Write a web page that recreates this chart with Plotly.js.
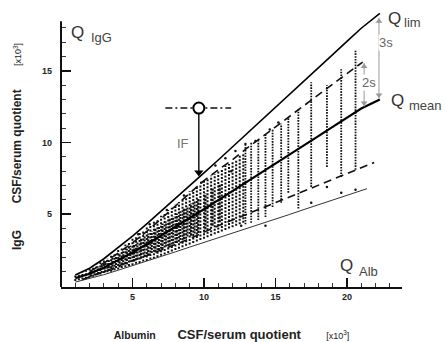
<!DOCTYPE html>
<html><head><meta charset="utf-8">
<script src="https://cdn.plot.ly/plotly-3.0.1.min.js"></script>
<style>body{margin:0;background:#fff}</style>
</head><body><div id="chart" style="width:445px;height:342px"></div>
<script>
// All values in units of x10^3
const limX  = [1.0, 2, 3, 4, 5, 6, 7, 8, 9, 10, 11, 12, 13, 14, 15, 16, 17, 18, 19, 20, 21, 22.3];
const limY  = [0.76, 1.24, 1.90, 2.66, 3.48, 4.33, 5.20, 6.08, 6.98, 7.88, 8.78, 9.69, 10.6, 11.52, 12.43, 13.35, 14.27, 15.2, 16.12, 17.04, 17.96, 19.0];
const meanX = [1.0, 2, 3, 4, 5, 6, 7, 8, 9, 10, 11, 12, 13, 14, 15, 16, 17, 18, 19, 20, 21, 22.3];
const meanY = [0.55, 0.85, 1.28, 1.78, 2.33, 2.91, 3.51, 4.12, 4.73, 5.35, 5.98, 6.61, 7.25, 7.88, 8.52, 9.16, 9.80, 10.44, 11.09, 11.73, 12.37, 13.0];
const lowX  = [1.0, 2, 3, 4, 5, 6, 7, 8, 9, 10, 11, 12, 13, 14, 15, 16, 17, 18, 19, 20, 21, 21.4];
const lowY  = [0.27, 0.51, 0.79, 1.10, 1.41, 1.73, 2.06, 2.38, 2.71, 3.03, 3.36, 3.69, 4.02, 4.34, 4.67, 4.99, 5.33, 5.66, 5.99, 6.32, 6.65, 6.78];
const upDashX = [2, 3, 4, 5, 6, 7, 8, 9, 10, 11, 12, 13, 14, 15, 16, 17, 18, 19, 20, 21.1];
const upDashY = [1.0, 1.6, 2.3, 3.0, 3.8, 4.7, 5.6, 6.5, 7.35, 8.1, 8.8, 9.6, 10.35, 11.1, 11.85, 12.6, 13.3, 14.1, 14.8, 15.6];
const loDashX = [1.5, 3, 5, 7, 9, 11, 13, 15, 17, 19, 21.9];
const loDashY = [0.45, 1.0, 1.75, 2.5, 3.3, 4.2, 5.0, 5.8, 6.6, 7.4, 8.6];

// patient data: columns of points (ranges) at the higher albumin quotients
const colX  = [12.9, 13.3, 13.8, 14.3, 14.8, 15.4, 15.9, 16.6, 17.5, 18.6, 19.6, 20.6];
const colLo = [4.3, 4.4, 4.6, 4.8, 5.5, 5.8, 6.5, 5.4, 6.9, 8.3, 7.6, 8.1];
const colHi = [9.8, 10.0, 10.2, 10.6, 10.9, 11.3, 11.7, 12.3, 14.2, 14.0, 15.1, 16.4];
// dense cloud at low quotients (outer band, between-band and inner core)
const cloudX  = [1.0, 1.5, 2.0, 2.5, 3.0, 3.5, 4.0, 4.5, 5.0, 5.5, 6.0, 6.5, 7.0, 7.5, 8.0, 8.5, 9.0, 9.5, 10.0, 10.5, 11.0, 11.5, 12.0, 12.5];
const cloudLo = [0.35, 0.45, 0.6, 0.75, 0.9, 1.0, 1.15, 1.3, 1.45, 1.6, 1.75, 1.9, 2.1, 2.3, 2.5, 2.7, 2.9, 3.1, 3.3, 3.5, 3.7, 3.9, 4.1, 4.3];
const cloudHi = [0.75, 1.0, 1.2, 1.5, 1.8, 2.1, 2.5, 2.9, 3.3, 3.7, 4.1, 4.5, 4.9, 5.3, 5.7, 6.1, 6.6, 7.0, 7.4, 7.7, 8.0, 8.4, 8.7, 9.1];
const coreX  = [1.25, 1.75, 2.25, 2.75, 3.25, 3.75, 4.25, 4.75, 5.25, 5.75, 6.25, 6.75, 7.25, 7.75, 8.25, 8.75, 9.25, 9.75, 10.25, 10.75, 11.25, 11.75, 12.25, 12.75];
const coreLo = [0.4, 0.5, 0.65, 0.8, 0.95, 1.1, 1.25, 1.4, 1.55, 1.7, 1.85, 2.0, 2.2, 2.4, 2.6, 2.8, 3.0, 3.2, 3.4, 3.6, 3.8, 4.0, 4.2, 4.4];
const coreHi = [0.9, 1.1, 1.35, 1.65, 1.95, 2.3, 2.65, 3.05, 3.45, 3.85, 4.25, 4.65, 5.05, 5.45, 5.85, 6.3, 6.7, 7.1, 7.5, 7.8, 8.1, 8.5, 8.8, 9.2];
const innerX  = [2.1, 2.6, 3.1, 3.6, 4.1, 4.6, 5.1, 5.6, 6.1, 6.6, 7.1, 7.6, 8.1, 8.6, 9.1, 9.6, 10.1, 10.6, 11.1];
const innerLo = [0.65, 0.8, 0.95, 1.1, 1.3, 1.5, 1.7, 1.9, 2.1, 2.35, 2.55, 2.8, 3.0, 3.25, 3.5, 3.7, 3.95, 4.2, 4.45];
const innerHi = [1.1, 1.35, 1.65, 1.95, 2.3, 2.6, 2.95, 3.3, 3.65, 4.0, 4.35, 4.7, 5.05, 5.4, 5.75, 6.1, 6.45, 6.8, 7.1];
const inner2X  = [2.35, 2.85, 3.35, 3.85, 4.35, 4.85, 5.35, 5.85, 6.35, 6.85, 7.35, 7.85, 8.35, 8.85, 9.35];
const inner2Lo = [0.75, 0.9, 1.05, 1.25, 1.45, 1.65, 1.85, 2.05, 2.3, 2.5, 2.75, 2.95, 3.2, 3.45, 3.65];
const inner2Hi = [1.2, 1.5, 1.8, 2.1, 2.45, 2.8, 3.1, 3.45, 3.8, 4.15, 4.5, 4.85, 5.2, 5.55, 5.9];
// single scattered points
const ptX = [10.8, 11.5, 12.2, 12.9, 11.9, 9.8, 8.6, 7.4, 13.6, 14.6, 15.2, 6.2, 5.4, 12.6, 14.3, 17.5, 19.6, 20.6, 18.6];
const ptY = [8.4, 8.9, 9.4, 9.9, 8.0, 7.2, 6.3, 5.3, 10.1, 10.9, 11.4, 4.3, 3.6, 4.2, 4.2, 5.8, 6.5, 6.7, 6.9];
// IF example: dashed level line, circle, arrow down to Q_lim
const ifX = [9.64], ifY = [12.4], ifLimY = [7.6];
const ifLineX = [7.3, 11.9];
// 3s and 2s distance markers (x, top, bottom)
const sdX = [22.24, 21.2], sdTop = [18.7, 15.55], sdBot = [13.05, 12.5];

const xTicks = [5, 10, 15, 20];
const yTicks = [5, 10, 15];
const xMinor = [1,2,3,4,6,7,8,9,11,12,13,14,16,17,18,19,21,22,23];
const yMinor = [1,2,3,4,6,7,8,9,11,12,13,14,16,17,18];

function segs(xs, lo, hi) {
  const X = [], Y = [];
  xs.forEach((x, i) => { X.push(x, x, null); Y.push(lo[i], hi[i], null); });
  return {x: X, y: Y};
}
const FONT = 'Liberation Sans, Arial, sans-serif';
const cl = segs(cloudX, cloudLo, cloudHi), co = segs(coreX, coreLo, coreHi),
      inn = segs(innerX, innerLo, innerHi), in2 = segs(inner2X, inner2Lo, inner2Hi),
      cc = segs(colX, colLo, colHi);
const sd = segs(sdX, sdBot, sdTop);
const dotLine = (w, d) => ({color: '#111', width: w, dash: d});

const data = [
  {x: cl.x, y: cl.y, mode: 'lines', line: dotLine(2.0, '2px,1.5px'), hoverinfo: 'skip'},
  {x: co.x, y: co.y, mode: 'lines', line: dotLine(2.0, '2px,1.5px'), hoverinfo: 'skip'},
  {x: inn.x, y: inn.y, mode: 'lines', line: dotLine(2.2, '2.5px,1px'), hoverinfo: 'skip'},
  {x: in2.x, y: in2.y, mode: 'lines', line: dotLine(2.0, '2px,1px'), hoverinfo: 'skip'},
  {x: cc.x, y: cc.y, mode: 'lines', line: dotLine(1.8, '1.6px,1.2px'), hoverinfo: 'skip'},
  {x: ptX, y: ptY, mode: 'markers', marker: {color: '#111', size: 2.5}},
  {x: lowX, y: lowY, mode: 'lines', line: {color: '#333', width: 1}},
  {x: loDashX, y: loDashY, mode: 'lines', line: {color: '#111', width: 1.6, dash: '8px,5px'}},
  {x: upDashX, y: upDashY, mode: 'lines', line: {color: '#111', width: 1.6, dash: '8px,5px'}},
  {x: meanX, y: meanY, mode: 'lines', line: {color: '#000', width: 2.2}},
  {x: limX, y: limY, mode: 'lines', line: {color: '#000', width: 1.6}},
  // 3s / 2s double arrows
  {x: sd.x, y: sd.y, mode: 'lines', line: {color: '#999', width: 1}},
  {x: sdX, y: sdTop.map(v => v - 0.25), mode: 'markers', marker: {symbol: 'triangle-up', size: 6, color: '#999'}},
  {x: sdX, y: sdBot.map(v => v + 0.25), mode: 'markers', marker: {symbol: 'triangle-down', size: 6, color: '#999'}},
  // IF
  {x: ifLineX, y: [ifY[0], ifY[0]], mode: 'lines', line: {color: '#111', width: 1.4, dash: '7px,3px,2px,3px'}},
  {x: [ifX[0], ifX[0]], y: [ifY[0], ifLimY[0] + 0.3], mode: 'lines', line: {color: '#000', width: 1.4}},
  {x: ifX, y: ifLimY.map(v => v + 0.3), mode: 'markers', marker: {symbol: 'triangle-down', size: 8, color: '#000'}},
  {x: ifX, y: ifY, mode: 'markers', marker: {symbol: 'circle', size: 11, color: '#fff', line: {color: '#000', width: 2}}}
];

function px2p(px, py) { return {x: (px - 61) / 341, y: (287 - py) / 281}; }
function lab(text, px, py, size, color) {
  const p = px2p(px, py);
  return {xref: 'paper', yref: 'paper', x: p.x, y: p.y, xanchor: 'center', yanchor: 'middle',
          text: text, showarrow: false, font: {family: FONT, size: size, color: color}};
}
const annotations = [
  Object.assign(lab('3s', 386, 42, 13, '#666'), {bgcolor: '#fff', borderpad: 0}),
  Object.assign(lab('2s', 369, 82, 13, '#666'), {bgcolor: '#fff', borderpad: 0}),
  lab('IF', 183, 143, 13, '#777'),
  lab('Q', 77, 32, 17, '#333'), lab('IgG', 101, 38, 13, '#444'),
  lab('Q', 394, 19, 17, '#333'), lab('lim', 412, 22, 13, '#444'),
  lab('Q', 397, 100, 17, '#333'), lab('mean', 425, 105, 13, '#444'),
  lab('Q', 346.5, 265, 17, '#333'), lab('Alb', 368.5, 271, 13, '#444')
];

const sp = n => '&nbsp;'.repeat(n);
const unit = "<span style='font-size:9px'>[x10<sup>3</sup>]</span>";
const layout = {
  width: 445, height: 342,
  margin: {l: 61, r: 43, t: 6, b: 55},
  paper_bgcolor: '#fff', plot_bgcolor: '#fff',
  showlegend: false,
  font: {family: FONT, color: '#222'},
  xaxis: {
    range: [0, 23.85], showgrid: false, zeroline: false,
    showline: true, linecolor: '#111', linewidth: 2,
    tickmode: 'array', tickvals: xTicks, ticktext: xTicks.map(String),
    ticks: 'inside', ticklen: 9, tickwidth: 1.8, tickcolor: '#111',
    tickfont: {family: FONT, size: 9, color: '#222', weight: 'bold'},
    minor: {tickmode: 'array', tickvals: xMinor, ticks: 'inside', ticklen: 4, tickwidth: 1, tickcolor: '#333'},
    title: {text: "<b><span style='font-size:10.5px'>Albumin</span>" + sp(6) + 'CSF/serum quotient</b>' + sp(7) + unit,
            font: {family: FONT, size: 13, color: '#222'}, standoff: 36}
  },
  yaxis: {
    range: [-0.07, 19.51], showgrid: false, zeroline: false, showline: false,
    tickmode: 'array', tickvals: yTicks, ticktext: yTicks.map(String),
    ticks: 'inside', ticklen: 10, tickwidth: 1.8, tickcolor: '#111',
    ticklabelstandoff: 8,
    tickfont: {family: FONT, size: 9, color: '#222', weight: 'bold'},
    minor: {tickmode: 'array', tickvals: yMinor, ticks: 'inside', ticklen: 5, tickwidth: 1, tickcolor: '#333'},
    title: {text: '<b>IgG' + sp(8) + 'CSF/serum quotient</b>' + sp(7) + unit,
            font: {family: FONT, size: 12, color: '#222'}, standoff: 17}
  },
  shapes: [{type: 'line', xref: 'paper', yref: 'y', x0: 0, x1: 0, y0: -0.07, y1: 18.45, line: {color: '#111', width: 2}}],
  annotations: annotations
};
Plotly.newPlot('chart', data, layout, {staticPlot: true, displayModeBar: false});
</script></body></html>
